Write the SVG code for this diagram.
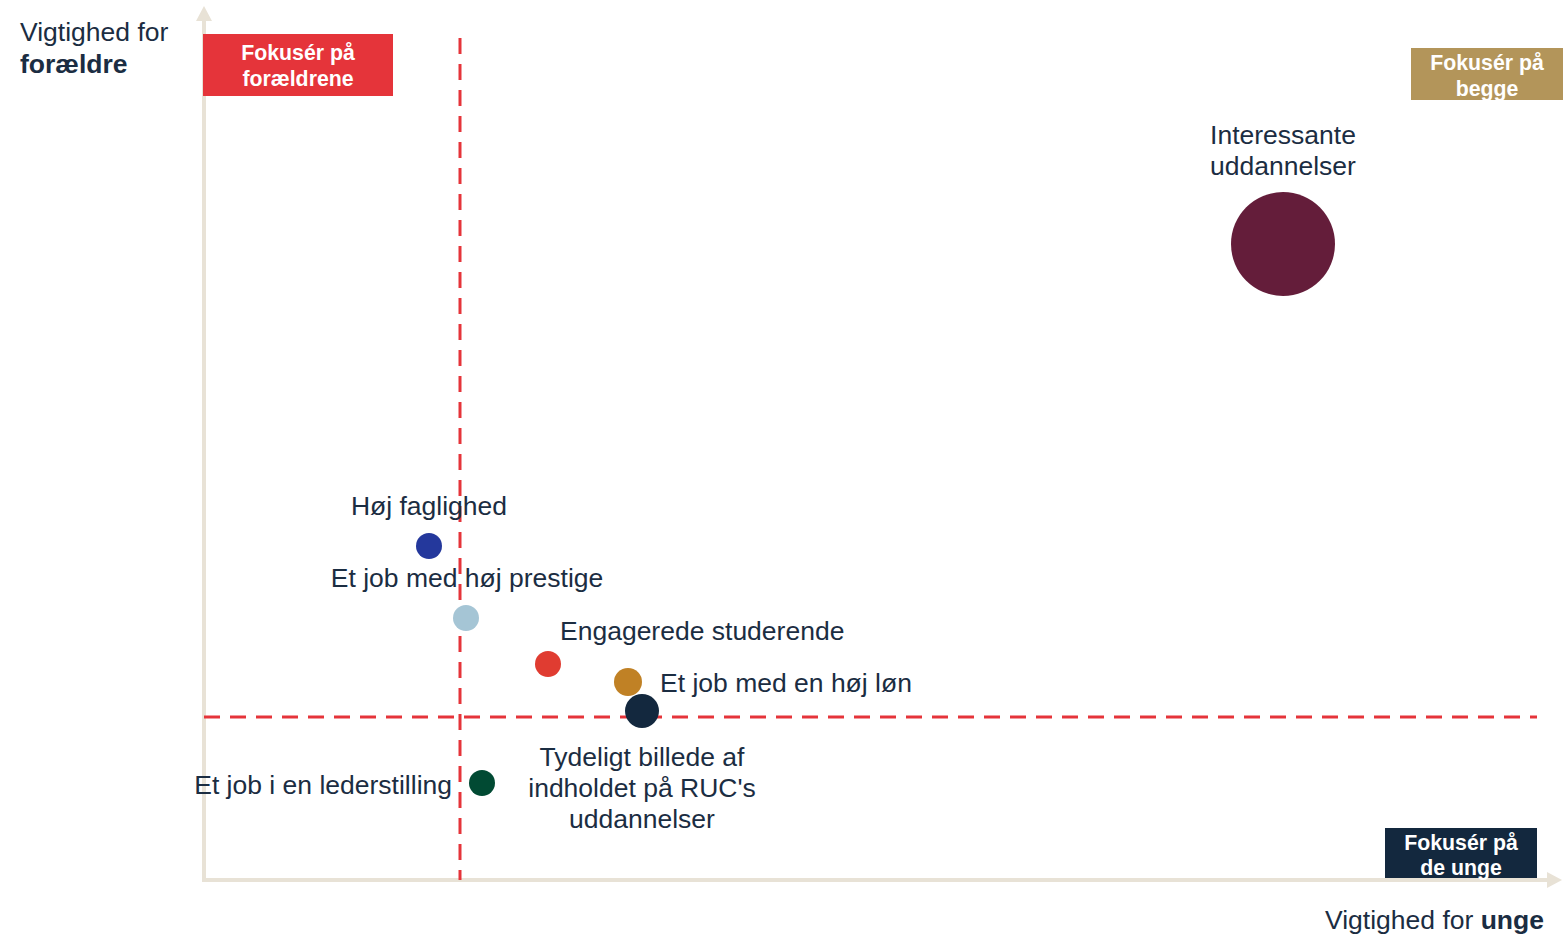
<svg xmlns="http://www.w3.org/2000/svg" width="1566" height="937" viewBox="0 0 1566 937">
<style>
.lbl{font-family:"Liberation Sans",Arial,sans-serif;font-size:26.5px;fill:#1B2D42}
.box{font-family:"Liberation Sans",Arial,sans-serif;font-size:21.3px;font-weight:bold;fill:#FFFFFF;text-anchor:middle}
.axis{stroke:#E8E2D6;stroke-width:4;fill:none}
.dash{stroke:#E5343A;stroke-width:3;stroke-dasharray:16 10;fill:none}
</style>
<rect width="1566" height="937" fill="#FFFFFF"/>
<g id="axes">
<line class="axis" x1="204" y1="882" x2="204" y2="20"/>
<polygon points="196,21 204,6 212,21" fill="#E8E2D6"/>
<line class="axis" x1="202" y1="880" x2="1548" y2="880"/>
<polygon points="1547,872 1562,880 1547,888" fill="#E8E2D6"/>
</g>
<g id="quadrant-lines">
<line class="dash" x1="460" y1="38" x2="460" y2="880"/>
<line class="dash" x1="204" y1="717" x2="1537" y2="717"/>
</g>
<g id="axis-labels">
<text class="lbl" x="20" y="41">Vigtighed for</text>
<text class="lbl" x="20" y="73" font-weight="bold">forældre</text>
<text class="lbl" x="1544" y="929" text-anchor="end">Vigtighed for <tspan font-weight="bold">unge</tspan></text>
</g>
<g id="box-foraeldre">
<rect x="203" y="34" width="190" height="62" fill="#E5343A"/>
<text class="box" x="298" y="60">Fokusér på</text>
<text class="box" x="298" y="86">forældrene</text>
</g>
<g id="box-begge">
<rect x="1411" y="48" width="152" height="52" fill="#B3955A"/>
<text class="box" x="1487" y="70">Fokusér på</text>
<text class="box" x="1487" y="96">begge</text>
</g>
<g id="box-unge">
<rect x="1385" y="828" width="152" height="50" fill="#13283E"/>
<text class="box" x="1461" y="850">Fokusér på</text>
<text class="box" x="1461" y="875">de unge</text>
</g>
<g id="node-interessante">
<circle cx="1283" cy="244" r="52" fill="#641D3A"/>
<text class="lbl" x="1283" y="144" text-anchor="middle">Interessante</text>
<text class="lbl" x="1283" y="175" text-anchor="middle">uddannelser</text>
</g>
<g id="node-faglighed">
<circle cx="429" cy="546" r="13" fill="#24389C"/>
<text class="lbl" x="429" y="515" text-anchor="middle">Høj faglighed</text>
</g>
<g id="node-prestige">
<circle cx="466" cy="618" r="13" fill="#A5C5D5"/>
<text class="lbl" x="467" y="587" text-anchor="middle">Et job med høj prestige</text>
</g>
<g id="node-engagerede">
<circle cx="548" cy="664" r="13" fill="#E03C31"/>
<text class="lbl" x="560" y="640">Engagerede studerende</text>
</g>
<g id="node-loen">
<circle cx="628" cy="682" r="14" fill="#C08125"/>
<text class="lbl" x="660" y="692">Et job med en høj løn</text>
</g>
<g id="node-tydeligt">
<circle cx="642" cy="711" r="17" fill="#13283E"/>
<text class="lbl" x="642" y="766" text-anchor="middle">Tydeligt billede af</text>
<text class="lbl" x="642" y="797" text-anchor="middle">indholdet på RUC's</text>
<text class="lbl" x="642" y="828" text-anchor="middle">uddannelser</text>
</g>
<g id="node-leder">
<circle cx="482" cy="783" r="13" fill="#014A33"/>
<text class="lbl" x="452" y="794" text-anchor="end">Et job i en lederstilling</text>
</g>
</svg>
